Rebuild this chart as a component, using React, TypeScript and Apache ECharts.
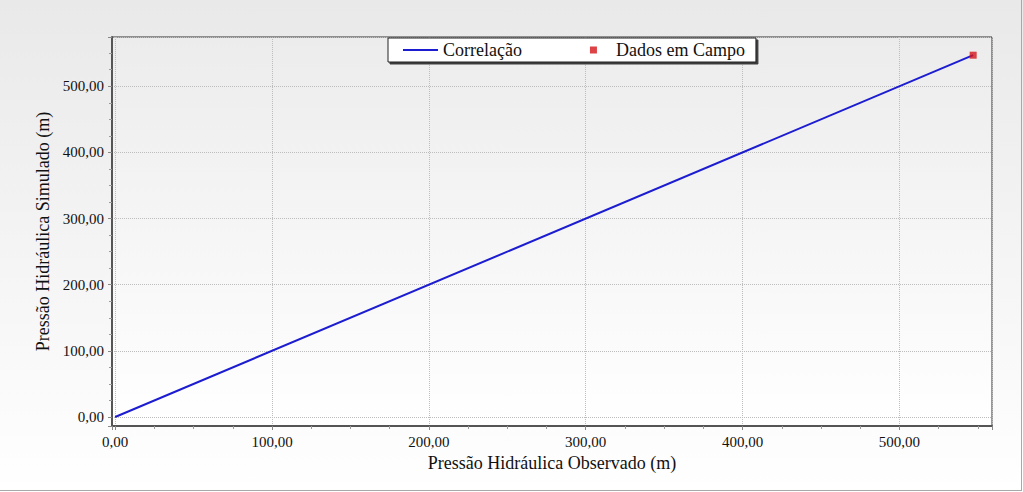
import React, { useEffect, useRef } from "react";
import * as echarts from "echarts";

const lineSeriesName = "Correlação";
const scatterSeriesName = "Dados em Campo";
const correlationPoints: [number, number][] = [
  [0, 0],
  [547, 547],
];
const fieldPoints: [number, number][] = [[547, 547]];
const xAxisTitle = "Pressão Hidráulica Observado (m)";
const yAxisTitle = "Pressão Hidráulica Simulado (m)";
const xRange = [-2, 559];
const yRange = [-13.6, 574.5];

const fmt = (v: number) => v.toFixed(2).replace(".", ",");

export default function App() {
  const ref = useRef<HTMLDivElement>(null);
  useEffect(() => {
    if (!ref.current) return;
    const chart = echarts.init(ref.current, null, { renderer: "svg" });
    const font = "'Liberation Serif', 'Times New Roman', serif";
    const plotBg = new echarts.graphic.LinearGradient(0, 0, 0, 1, [
      { offset: 0, color: "#ececec" },
      { offset: 1, color: "#ffffff" },
    ]);
    const axisCommon = {
      type: "value" as const,
      nameLocation: "middle" as const,
      nameTextStyle: { fontFamily: font, fontSize: 18, color: "#111" },
      axisLine: { show: true, onZero: false, lineStyle: { color: "#555", width: 2 } },
      axisTick: { show: true, length: 4, lineStyle: { color: "#888" } },
      minorTick: { show: true, splitNumber: 4, length: 3, lineStyle: { color: "#999" } },
      splitLine: { show: true, lineStyle: { color: "#bdbdbd", type: "dotted" as const, width: 1 } },
      axisLabel: {
        fontFamily: font,
        fontSize: 15,
        color: "#111",
        showMinLabel: false,
        showMaxLabel: false,
        formatter: (v: number) => fmt(v),
      },
    };
    chart.setOption({
      animation: false,
      backgroundColor: new echarts.graphic.LinearGradient(0, 0, 0, 1, [
        { offset: 0, color: "#e9e9e9" },
        { offset: 1, color: "#ffffff" },
      ]),
      textStyle: { fontFamily: font },
      grid: {
        left: 112,
        top: 37,
        right: 31,
        bottom: 66,
        show: true,
        backgroundColor: plotBg,
        borderColor: "#333",
        borderWidth: 1,
      },
      legend: {
        left: 388,
        top: 38,
        orient: "horizontal",
        padding: [3, 11, 3, 15],
        itemGap: 68,
        itemWidth: 35,
        itemHeight: 7,
        symbolKeepAspect: true,
        backgroundColor: "#ffffff",
        borderColor: "#222",
        borderWidth: 1,
        borderRadius: 0,
        shadowColor: "rgba(40,40,40,0.9)",
        shadowBlur: 1,
        shadowOffsetX: 2,
        shadowOffsetY: 2,
        textStyle: { fontFamily: font, fontSize: 18, color: "#111" },
        data: [
          { name: lineSeriesName, icon: "path://M0,0H35V2H0Z" },
          { name: scatterSeriesName, icon: "path://M0,0H7V7H0Z" },
        ],
      },
      xAxis: {
        ...axisCommon,
        min: xRange[0],
        max: xRange[1],
        splitNumber: 5,
        name: xAxisTitle,
        nameGap: 26,
        axisLabel: { ...axisCommon.axisLabel, margin: 8 },
      },
      yAxis: {
        ...axisCommon,
        min: yRange[0],
        max: yRange[1],
        splitNumber: 5,
        name: yAxisTitle,
        nameGap: 60,
        axisLabel: { ...axisCommon.axisLabel, margin: 8 },
      },
      graphic: [
        { type: "line", shape: { x1: 1021.5, y1: 0, x2: 1021.5, y2: 491 }, style: { stroke: "#a8a8a8", lineWidth: 1 } },
        { type: "line", shape: { x1: 0, y1: 490.5, x2: 1022, y2: 490.5 }, style: { stroke: "#a8a8a8", lineWidth: 1 } },
      ],
      series: [
        {
          name: lineSeriesName,
          type: "line",
          data: correlationPoints,
          showSymbol: false,
          symbol: "none",
          lineStyle: { color: "#1c1cd0", width: 2 },
          itemStyle: { color: "#1c1cd0" },
          z: 3,
        },
        {
          name: scatterSeriesName,
          type: "scatter",
          data: fieldPoints,
          symbol: "rect",
          symbolSize: 7,
          itemStyle: { color: "#d41418" },
          z: 4,
        },
      ],
    });
    return () => chart.dispose();
  }, []);
  return (
    <div
      ref={ref}
      style={{ position: "fixed", left: 0, top: 0, width: 1023, height: 492 }}
    />
  );
}
